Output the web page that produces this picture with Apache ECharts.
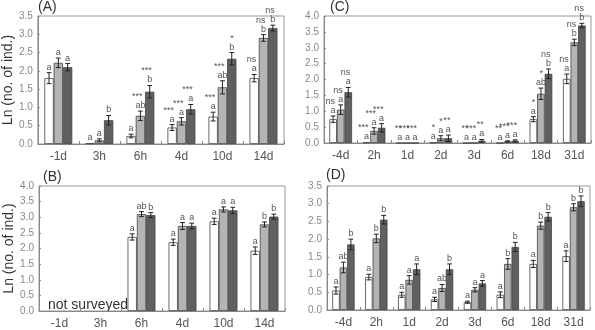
<!DOCTYPE html>
<html>
<head>
<meta charset="utf-8">
<script src="https://cdn.jsdelivr.net/npm/echarts@6/dist/echarts.min.js"></script>
<style>
  html, body { margin: 0; padding: 0; background: #fff; }
  #chart { width: 595px; height: 330px; }
</style>
</head>
<body>
<div id="chart"></div>
<script>
// categories
let catsA = ['-1d', '3h', '6h', '4d', '10d', '14d']
let catsC = ['-4d', '2h', '1d', '2d', '3d', '6d', '18d', '31d']

// panel A
let aWhite = [1.8, 0.02, 0.22, 0.45, 0.75, 1.8]
let aWhiteErr = [0.15, 0.01, 0.05, 0.08, 0.12, 0.1]
let aLight = [2.22, 0.1, 0.77, 0.62, 1.55, 2.9]
let aLightErr = [0.13, 0.04, 0.13, 0.1, 0.18, 0.09]
let aDark = [2.1, 0.65, 1.43, 0.95, 2.33, 3.17]
let aDarkErr = [0.1, 0.13, 0.17, 0.13, 0.17, 0.08]
let aWhiteLet = ['a', 'a', 'a', 'a', 'a', 'a']
let aLightLet = ['a', 'a', 'ab', 'a', 'ab', 'b']
let aDarkLet = ['a', 'b', 'b', 'a', 'b', 'b']
let aWhiteSig = ['', '', '', '***', '***', 'ns']
let aLightSig = ['', '', '***', '***', '***', 'ns']
let aDarkSig = ['', '', '***', '***', '*', 'ns']

// panel B
let bWhite = ['-', '-', 2.37, 2.2, 2.87, 1.93]
let bWhiteErr = [0, 0, 0.1, 0.1, 0.1, 0.12]
let bLight = ['-', '-', 3.1, 2.72, 3.25, 2.77]
let bLightErr = [0, 0, 0.08, 0.11, 0.08, 0.08]
let bDark = ['-', '-', 3.07, 2.72, 3.22, 3.02]
let bDarkErr = [0, 0, 0.08, 0.09, 0.1, 0.08]
let bWhiteLet = ['', '', 'a', 'a', 'a', 'a']
let bLightLet = ['', '', 'ab', 'a', 'a', 'b']
let bDarkLet = ['', '', 'b', 'a', 'a', 'b']

// panel C
let cWhite = [0.75, 0.02, 0, 0.02, 0, 0, 0.75, 2.02]
let cWhiteErr = [0.1, 0.01, 0, 0.01, 0, 0, 0.08, 0.15]
let cLight = [1.05, 0.38, 0, 0.15, 0, 0.05, 1.55, 3.17]
let cLightErr = [0.15, 0.1, 0, 0.08, 0, 0.02, 0.18, 0.1]
let cDark = [1.6, 0.48, 0, 0.15, 0.07, 0.07, 2.18, 3.7]
let cDarkErr = [0.15, 0.13, 0, 0.1, 0.04, 0.03, 0.15, 0.07]
let cWhiteLet = ['a', 'a', 'a', 'a', 'a', 'a', 'a', 'a']
let cLightLet = ['a', 'a', 'a', 'a', 'a', 'a', 'ab', 'b']
let cDarkLet = ['a', 'a', 'a', 'a', 'a', 'a', 'b', 'b']
let cWhiteSig = ['ns', '***', '**', '*', '**', '**', '*', 'ns']
let cLightSig = ['ns', '***', '***', '*', '***', '***', '*', 'ns']
let cDarkSig = ['ns', '***', '***', '**', '**', '***', 'ns', 'ns']

// panel D
let dWhite = [0.55, 0.93, 0.43, 0.3, 0.22, 0.43, 1.3, 1.52]
let dWhiteErr = [0.1, 0.08, 0.07, 0.06, 0.03, 0.08, 0.1, 0.15]
let dLight = [1.2, 2.02, 0.85, 0.62, 0.57, 1.3, 2.38, 2.9]
let dLightErr = [0.15, 0.12, 0.12, 0.1, 0.06, 0.15, 0.1, 0.1]
let dDark = [1.85, 2.55, 1.15, 1.15, 0.75, 1.78, 2.63, 3.07]
let dDarkErr = [0.15, 0.12, 0.15, 0.15, 0.08, 0.13, 0.12, 0.15]
let dWhiteLet = ['a', 'a', 'a', 'a', 'a', 'a', 'a', 'a']
let dLightLet = ['ab', 'b', 'a', 'ab', 'a', 'b', 'b', 'b']
let dDarkLet = ['b', 'b', 'a', 'b', 'a', 'b', 'b', 'b']

const FONT = 'Liberation Sans'
const barColors = ['#ffffff', '#b4b4b4', '#606060']
const GAP = 0.32

function errSeries(idx, pos, vals, errs, lets, sigs) {
  return {
    type: 'custom',
    xAxisIndex: idx,
    yAxisIndex: idx,
    z: 10,
    data: vals.map((v, i) => [i, v === '-' ? 0 : v, errs[i]]),
    encode: { x: 0, y: 1 },
    renderItem: (params, api) => {
      let i = params.dataIndex
      if (vals[i] === '-') return null
      let v = api.value(1), e = api.value(2)
      let band = api.size([1, 0])[0]
      let bw = band * (1 - GAP) / 3
      let x = api.coord([i, v])[0] + pos * bw
      let top = api.coord([i, v + e])[1]
      let bot = api.coord([i, Math.max(0, v - e)])[1]
      let base = api.coord([i, v])[1]
      let kids = []
      if (e > 0.015) {
        let cw = 2.4
        let ls = { stroke: '#222', lineWidth: 1 }
        kids.push({ type: 'line', shape: { x1: x, y1: top, x2: x, y2: bot }, style: ls })
        kids.push({ type: 'line', shape: { x1: x - cw, y1: top, x2: x + cw, y2: top }, style: ls })
        kids.push({ type: 'line', shape: { x1: x - cw, y1: bot, x2: x + cw, y2: bot }, style: ls })
      }
      let ly = Math.min(top, base) - 1
      if (lets && lets[i]) {
        kids.push({ type: 'text', style: { x: x, y: ly, text: lets[i], fill: '#555', fontSize: 9, fontFamily: FONT, align: 'center', verticalAlign: 'bottom' } })
      }
      if (sigs && sigs[i]) {
        kids.push({ type: 'text', style: { x: x + 2, y: ly - 9, text: sigs[i], fill: '#555', fontSize: 9, fontFamily: FONT, align: 'right', verticalAlign: 'bottom' } })
      }
      return { type: 'group', children: kids }
    }
  }
}

function barSeries(idx, k, vals) {
  return {
    type: 'bar',
    xAxisIndex: idx,
    yAxisIndex: idx,
    data: vals,
    barGap: '0%',
    barCategoryGap: (GAP * 100) + '%',
    itemStyle: { color: barColors[k], borderColor: '#444', borderWidth: 0.8 },
    silent: true
  }
}

function xAx(idx, cats) {
  return {
    type: 'category',
    gridIndex: idx,
    data: cats,
    axisLine: { lineStyle: { color: '#888' } },
    axisTick: { show: true, inside: true, length: 3, lineStyle: { color: '#888' } },
    axisLabel: { color: '#555', fontSize: 12, margin: 7, fontFamily: FONT }
  }
}

function yAx(idx, max, name) {
  return {
    type: 'value',
    gridIndex: idx,
    min: 0,
    max: max,
    interval: 0.5,
    name: name,
    nameLocation: 'middle',
    nameGap: 21,
    nameTextStyle: { fontSize: 14, color: '#333', fontFamily: FONT },
    axisLine: { show: true, lineStyle: { color: '#888' } },
    axisTick: { show: true, inside: true, length: 2, lineStyle: { color: '#888' } },
    splitLine: { show: false },
    axisLabel: { color: '#888', fontSize: 10, margin: 5, formatter: v => v.toFixed(1), fontFamily: FONT }
  }
}

let chart = echarts.init(document.getElementById('chart'))
let gridBase = { show: true, borderColor: '#999', borderWidth: 1, containLabel: false }
let panelTitle = t => ({ text: t, padding: 0, textStyle: { fontSize: 14, fontWeight: 'normal', color: '#333', fontFamily: FONT } })

chart.setOption({
  animation: false,
  title: [
    Object.assign(panelTitle('(A)'), { left: 38, top: 0 }),
    Object.assign(panelTitle('(C)'), { left: 330, top: 0 }),
    Object.assign(panelTitle('(B)'), { left: 43, top: 170 }),
    Object.assign(panelTitle('(D)'), { left: 326, top: 168 })
  ],
  grid: [
    Object.assign({ left: 37, right: 311, top: 16, height: 128 }, gridBase),
    Object.assign({ left: 39, right: 310, top: 186, height: 128 }, gridBase),
    Object.assign({ left: 324, right: 4, top: 16, height: 127 }, gridBase),
    Object.assign({ left: 327, right: 5, top: 186, height: 124 }, gridBase)
  ],
  xAxis: [xAx(0, catsA), xAx(1, catsA), xAx(2, catsC), xAx(3, catsC)],
  yAxis: [
    yAx(0, 3.5, 'Ln (no. of ind.)'),
    yAx(1, 4.0, 'Ln (no. of ind.)'),
    yAx(2, 4.0, ''),
    yAx(3, 3.5, '')
  ],
  graphic: [
    { type: 'text', left: 48, top: 298, style: { text: 'not surveyed', fontSize: 14, fill: '#333', fontFamily: FONT } }
  ],
  series: [
    barSeries(0, 0, aWhite), barSeries(0, 1, aLight), barSeries(0, 2, aDark),
    barSeries(1, 0, bWhite), barSeries(1, 1, bLight), barSeries(1, 2, bDark),
    barSeries(2, 0, cWhite), barSeries(2, 1, cLight), barSeries(2, 2, cDark),
    barSeries(3, 0, dWhite), barSeries(3, 1, dLight), barSeries(3, 2, dDark),
    errSeries(0, -1, aWhite, aWhiteErr, aWhiteLet, aWhiteSig),
    errSeries(0, 0, aLight, aLightErr, aLightLet, aLightSig),
    errSeries(0, 1, aDark, aDarkErr, aDarkLet, aDarkSig),
    errSeries(1, -1, bWhite, bWhiteErr, bWhiteLet, null),
    errSeries(1, 0, bLight, bLightErr, bLightLet, null),
    errSeries(1, 1, bDark, bDarkErr, bDarkLet, null),
    errSeries(2, -1, cWhite, cWhiteErr, cWhiteLet, cWhiteSig),
    errSeries(2, 0, cLight, cLightErr, cLightLet, cLightSig),
    errSeries(2, 1, cDark, cDarkErr, cDarkLet, cDarkSig),
    errSeries(3, -1, dWhite, dWhiteErr, dWhiteLet, null),
    errSeries(3, 0, dLight, dLightErr, dLightLet, null),
    errSeries(3, 1, dDark, dDarkErr, dDarkLet, null)
  ]
})

window.addEventListener('resize', () => {
  chart.resize()
})
</script>
</body>
</html>
